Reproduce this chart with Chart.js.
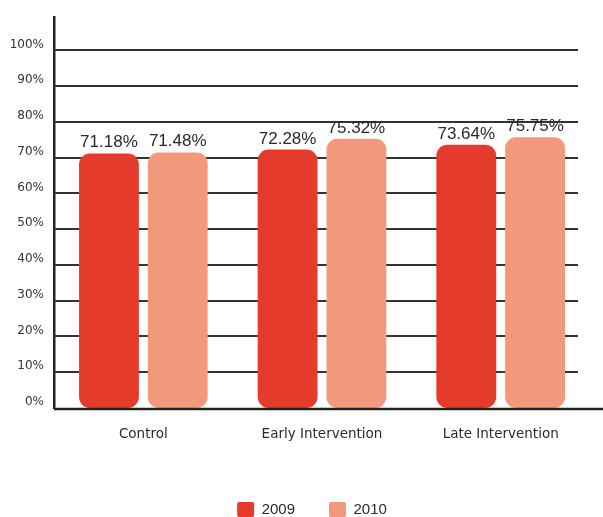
<!DOCTYPE html>
<html>
<head>
<meta charset="utf-8">
<script src="https://cdn.jsdelivr.net/npm/chart.js@4/dist/chart.umd.min.js"></script>
<style>
  html, body { margin: 0; padding: 0; background: #fff; }
  #wrap { width: 603px; height: 517px; }
</style>
</head>
<body>
<div id="wrap"><canvas id="chart"></canvas></div>
<script>
// Data
const categories = ['Control', 'Early Intervention', 'Late Intervention'];
const values2009 = [71.18, 72.28, 73.64];
const values2010 = [71.48, 75.32, 75.75];
const yTicks = [0, 10, 20, 30, 40, 50, 60, 70, 80, 90, 100];

// Colours
const RED = '#e53b2d';
const SALMON = '#f2987b';
const INK = '#2a2a2a';

// Horizontal grid lines (stop short of the right edge like the original)
const gridPlugin = {
  id: 'gridLines',
  beforeDatasetsDraw(chart) {
    const { ctx, chartArea, scales } = chart;
    ctx.save();
    ctx.strokeStyle = '#333';
    ctx.lineWidth = 2;
    yTicks.forEach(v => {
      if (v === 0) return;
      const y = Math.round(scales.y.getPixelForValue(v));
      ctx.beginPath();
      ctx.moveTo(chartArea.left, y);
      ctx.lineTo(578, y);
      ctx.stroke();
    });
    ctx.restore();
  }
};

// Baseline running to the edge + value labels above bars
const labelPlugin = {
  id: 'valueLabels',
  afterLayout(chart) {
    // legend sits a bit right of centre in the original
    chart.legend.left += 17;
    chart.legend.right += 17;
  },
  afterDatasetsDraw(chart) {
    const { ctx, chartArea } = chart;
    ctx.save();
    ctx.strokeStyle = '#222';
    ctx.lineWidth = 2.5;
    ctx.beginPath();
    ctx.moveTo(chartArea.left, chartArea.bottom + 1);
    ctx.lineTo(chart.width, chartArea.bottom + 1);
    ctx.stroke();

    ctx.fillStyle = INK;
    ctx.font = '17px "Liberation Sans", Arial, sans-serif';
    ctx.textAlign = 'center';
    ctx.textBaseline = 'alphabetic';
    chart.data.datasets.forEach((ds, i) => {
      const meta = chart.getDatasetMeta(i);
      meta.data.forEach((bar, j) => {
        ctx.fillText(ds.data[j].toFixed(2) + '%', bar.x, bar.y - 6);
      });
    });
    ctx.restore();
  }
};

new Chart(document.getElementById('chart'), {
  type: 'bar',
  data: {
    labels: categories,
    datasets: [
      {
        label: '2009',
        data: values2009,
        backgroundColor: RED,
        borderRadius: 11,
        borderSkipped: false,
        barPercentage: 0.87,
        categoryPercentage: 0.77
      },
      {
        label: '2010',
        data: values2010,
        backgroundColor: SALMON,
        borderRadius: 11,
        borderSkipped: false,
        barPercentage: 0.87,
        categoryPercentage: 0.77
      }
    ]
  },
  options: {
    responsive: true,
    maintainAspectRatio: false,
    animation: false,
    layout: { padding: { top: 13, left: 0, right: 13, bottom: -10 } },
    scales: {
      x: {
        grid: { display: false, drawTicks: false },
        border: { display: false },
        ticks: {
          color: INK,
          padding: 18,
          font: { family: '"DejaVu Sans", sans-serif', size: 13.5 }
        },
        afterFit(scale) { scale.height = 60; }
      },
      y: {
        min: 0,
        max: 109.3,
        grid: { display: false, drawTicks: false },
        border: { display: true, color: '#222', width: 2.5 },
        afterBuildTicks(scale) {
          scale.ticks = yTicks.map(v => ({ value: v }));
        },
        ticks: {
          color: '#333',
          padding: 10,
          labelOffset: -6,
          font: { family: '"DejaVu Sans", sans-serif', size: 12 },
          callback: v => v + '%'
        },
        afterFit(scale) { scale.width = 54; }
      }
    },
    plugins: {
      legend: {
        position: 'bottom',
        labels: {
          color: INK,
          boxWidth: 17,
          boxHeight: 15,
          padding: 34,
          useBorderRadius: true,
          borderRadius: 2,
          font: { family: '"Liberation Sans", Arial, sans-serif', size: 15 }
        }
      },
      tooltip: { enabled: false }
    }
  },
  plugins: [gridPlugin, labelPlugin]
});
</script>
</body>
</html>
